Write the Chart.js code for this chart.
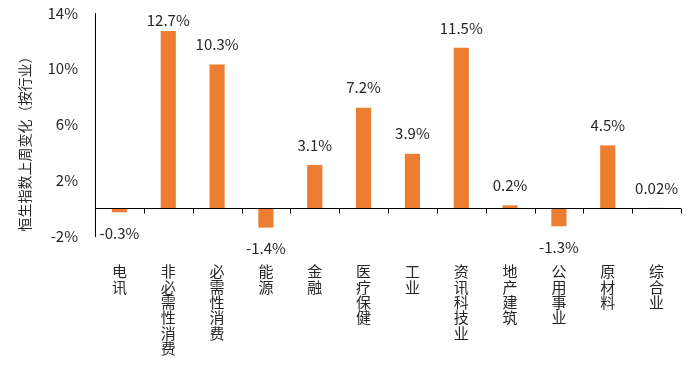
<!DOCTYPE html>
<html>
<head>
<meta charset="utf-8">
<script src="https://cdn.jsdelivr.net/npm/chart.js@4/dist/chart.umd.min.js"></script>
<style>
  html, body { margin: 0; padding: 0; background: #fff; }
</style>
</head>
<body>
<canvas id="myChart" width="698" height="365"></canvas>
<script>
// data
const sectors = ['电讯', '非必需性消费', '必需性消费', '能源', '金融', '医疗保健', '工业', '资讯科技业', '地产建筑', '公用事业', '原材料', '综合业'];
const weeklyChange = [-0.3, 12.7, 10.3, -1.4, 3.1, 7.2, 3.9, 11.5, 0.2, -1.3, 4.5, 0.02];
const yTicks = [-2, 2, 6, 10, 14];
const yTitle = '恒生指数上周变化（按行业）';

const FONT = "'Noto Sans CJK SC', 'Noto Sans', sans-serif";
const TEXT = '#262626';
const ORANGE = '#ED7D31';

// zero axis line with tick marks, value labels and the y title
const extras = {
  id: 'extras',
  afterDatasetsDraw(chart) {
    const ctx = chart.ctx;
    const area = chart.chartArea;
    const x = chart.scales.x;
    const y = chart.scales.y;
    const y0 = Math.round(y.getPixelForValue(0)) + 0.5;
    const w = (x.right - x.left) / sectors.length;

    ctx.save();
    ctx.strokeStyle = '#000';
    ctx.lineWidth = 1;
    ctx.beginPath();
    ctx.moveTo(area.left, y0);
    ctx.lineTo(area.right, y0);
    for (let i = 0; i < sectors.length; i++) {
      const tx = Math.round(x.getPixelForValue(i) + w / 2) + 0.5;
      ctx.moveTo(tx, y0);
      ctx.lineTo(tx, y0 + 5);
    }
    ctx.stroke();

    // value labels
    ctx.fillStyle = TEXT;
    ctx.font = '15px ' + FONT;
    ctx.textAlign = 'center';
    ctx.textBaseline = 'middle';
    const meta = chart.getDatasetMeta(0);
    meta.data.forEach((bar, i) => {
      const v = weeklyChange[i];
      let ty;
      if (v >= 0) {
        ty = Math.max(bar.y - 20, area.top + 7);
      } else {
        ty = bar.y + 21;
      }
      ctx.fillText(String(v) + '%', bar.x, ty);
    });

    // rotated axis title
    ctx.font = '14px ' + FONT;
    ctx.translate(area.left - 70, (area.top + area.bottom) / 2 + 16);
    ctx.rotate(-Math.PI / 2);
    ctx.fillText(yTitle, 0, 0);
    ctx.restore();
  }
};

const chart = new Chart(document.getElementById('myChart'), {
  type: 'bar',
  data: {
    labels: sectors.map(s => s.split('')),
    datasets: [{
      data: weeklyChange,
      backgroundColor: ORANGE,
      borderWidth: 0,
      categoryPercentage: 0.31,
      barPercentage: 1
    }]
  },
  options: {
    responsive: false,
    animation: false,
    layout: { padding: { top: 13, right: 17, left: 40, bottom: 0 } },
    plugins: {
      legend: { display: false },
      tooltip: { enabled: false }
    },
    scales: {
      x: {
        grid: { display: false, drawTicks: false },
        border: { display: false },
        ticks: {
          color: TEXT,
          font: { family: FONT, size: 15, lineHeight: 1.02 },
          padding: 28,
          maxRotation: 0,
          autoSkip: false
        },
        afterFit: s => { s.height = 129; }
      },
      y: {
        min: -2,
        max: 14,
        grid: { display: false, drawTicks: false },
        border: { display: true, color: '#000', width: 1 },
        ticks: {
          color: TEXT,
          font: { family: FONT, size: 15 },
          padding: 17,
          callback: v => v + '%'
        },
        afterBuildTicks: s => { s.ticks = yTicks.map(v => ({ value: v })); },
        afterFit: s => {
          s.width = 55;
          s.paddingTop = 0;
          s.paddingBottom = 0;
        }
      }
    }
  },
  plugins: [extras]
});
</script>
</body>
</html>
